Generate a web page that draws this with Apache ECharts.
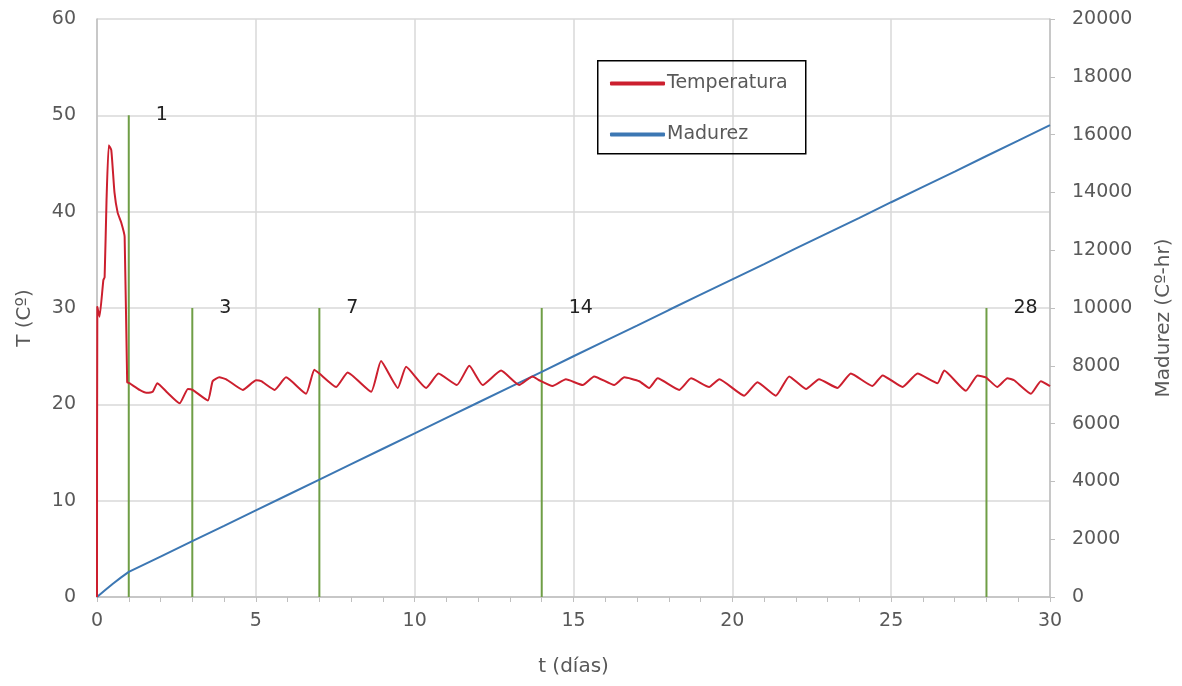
<!DOCTYPE html>
<html>
<head>
<meta charset="utf-8">
<script src="https://cdn.jsdelivr.net/npm/echarts@6/dist/echarts.min.js"></script>
<style>
  html, body { margin: 0; padding: 0; background: #ffffff; }
  #chart { width: 1182px; height: 686px; }
</style>
</head>
<body>
<div id="chart"></div>
<script>
// Temperature record (days, °C)
const tempDays = [0, 0.01, 0.08, 0.2, 0.24, 0.3, 0.37, 0.45, 0.55, 0.65, 0.76, 0.87, 0.95,
  1.02, 1.34, 1.55, 1.75, 1.9, 2.22, 2.6, 2.86, 3.01, 3.49, 3.64, 3.85, 4.07, 4.59, 5.01, 5.17,
  5.59, 5.95, 6.58, 6.84, 7.0, 7.53, 7.89, 8.63, 8.94, 9.47, 9.73, 10.36, 10.75, 11.33, 11.72,
  12.14, 12.72, 13.29, 13.71, 13.92, 14.34, 14.76, 15.29, 15.65, 16.28, 16.6, 17.07, 17.38,
  17.65, 18.33, 18.7, 19.27, 19.59, 20.37, 20.79, 21.37, 21.79, 22.32, 22.73, 23.31, 23.73,
  24.41, 24.73, 25.36, 25.83, 26.46, 26.67, 27.35, 27.72, 27.98, 28.34, 28.66, 28.87, 29.4,
  29.71, 30.0];
const tempValues = [0, 30.1, 29.1, 32.9, 33.2, 41.2, 46.9, 46.4, 42.0, 39.9, 38.9, 37.4, 22.3,
  22.2, 21.5, 21.2, 21.3, 22.2, 21.2, 20.1, 21.6, 21.5, 20.4, 22.4, 22.8, 22.6, 21.5, 22.5, 22.4,
  21.5, 22.8, 21.1, 23.6, 23.2, 21.8, 23.3, 21.3, 24.5, 21.7, 23.9, 21.7, 23.2, 22.0, 24.0,
  22.0, 23.5, 22.0, 22.9, 22.5, 21.9, 22.6, 22.0, 22.9, 22.0, 22.8, 22.4, 21.7,
  22.7, 21.5, 22.7, 21.8, 22.6, 20.9, 22.3, 20.9, 22.9, 21.6, 22.6, 21.7, 23.2,
  21.9, 23.0, 21.8, 23.2, 22.2, 23.5, 21.4, 23.0, 22.8, 21.8, 22.7, 22.5, 21.1,
  22.4, 21.9];

// Maturity (°C-hr)
const maturityDays = [0, 0.25, 0.5, 0.75, 1, 2, 3, 4, 5, 6, 7, 8, 9, 10, 11, 12, 13, 14, 15,
  16, 17, 18, 19, 20, 21, 22, 23, 24, 25, 26, 27, 28, 29, 30];
const maturityValues = [0, 230, 460, 670, 870, 1400, 1930, 2460, 3000, 3530, 4060, 4600, 5130,
  5660, 6200, 6730, 7260, 7790, 8330, 8860, 9390, 9930, 10460, 10990, 11520, 12060, 12590,
  13120, 13660, 14190, 14720, 15260, 15790, 16330];

// Test ages (days) and the height of their marker lines (°C)
const ageDays = [1, 3, 7, 14, 28];
const ageTops = [50, 30, 30, 30, 30];
const ageLabels = ['1', '3', '7', '14', '28'];

const xTicks = [0, 5, 10, 15, 20, 25, 30];

const FONT = 'DejaVu Sans';
const LABEL_GRAY = '#595959';
const GRID_GRAY = '#d9d9d9';
const AXIS_GRAY = '#bfbfbf';
const RED = '#cc1f2e';
const BLUE = '#3c77b3';
const GREEN = '#6f9e46';

const chart = echarts.init(document.getElementById('chart'), null, { renderer: 'canvas' });

const tempData = tempDays.map((d, i) => [d, tempValues[i]]);
const maturityData = maturityDays.map((d, i) => [d, maturityValues[i]]);

const ageSeries = ageDays.map((d, i) => ({
  name: 'Edad ' + ageLabels[i],
  type: 'line',
  xAxisIndex: 0,
  yAxisIndex: 0,
  data: [[d, 0], [d, ageTops[i]]],
  symbol: 'none',
  silent: true,
  z: 1,
  lineStyle: { color: GREEN, width: 2 },
  endLabel: {
    show: true,
    formatter: ageLabels[i],
    distance: 27,
    color: '#222222',
    fontFamily: FONT,
    fontSize: 19
  }
}));

chart.setOption({
  animation: false,
  backgroundColor: '#ffffff',
  grid: { left: 97, right: 131, top: 19, bottom: 89, containLabel: false },
  legend: {
    orient: 'vertical',
    left: 605,
    top: 69,
    itemWidth: 55,
    itemHeight: 4,
    itemGap: 32,
    icon: 'roundRect',
    data: ['Temperatura', 'Madurez'],
    textStyle: { fontFamily: FONT, fontSize: 19, color: LABEL_GRAY, padding: [0, 0, 0, -3] }
  },
  graphic: [{
    type: 'rect',
    left: 597,
    top: 60,
    shape: { width: 208, height: 93 },
    style: { fill: 'transparent', stroke: '#000000', lineWidth: 1.5 },
    z: 100
  }],
  xAxis: {
    type: 'value',
    min: 0,
    max: 30,
    interval: 5,
    name: 't (días)',
    nameLocation: 'middle',
    nameGap: 60,
    nameTextStyle: { fontFamily: FONT, fontSize: 20, color: LABEL_GRAY },
    axisLine: { show: true, lineStyle: { color: AXIS_GRAY, width: 1.5 } },
    axisTick: { show: true, length: 5, lineStyle: { color: AXIS_GRAY } },
    minorTick: { show: true, splitNumber: 5, length: 5, lineStyle: { color: AXIS_GRAY } },
    splitLine: { show: true, lineStyle: { color: GRID_GRAY, width: 1.5 } },
    axisLabel: {
      fontFamily: FONT, fontSize: 19, color: LABEL_GRAY, margin: 15,
      formatter: v => (xTicks.indexOf(v) >= 0 ? String(v) : '')
    }
  },
  yAxis: [{
    type: 'value',
    min: 0,
    max: 60,
    interval: 10,
    name: 'T (Cº)',
    nameLocation: 'middle',
    nameGap: 62,
    nameRotate: 90,
    nameTextStyle: { fontFamily: FONT, fontSize: 20, color: LABEL_GRAY, padding: [0, 20, 0, 0] },
    axisLine: { show: true, lineStyle: { color: AXIS_GRAY, width: 1.5 } },
    axisTick: { show: false },
    splitLine: { show: true, lineStyle: { color: GRID_GRAY, width: 1.5 } },
    axisLabel: { fontFamily: FONT, fontSize: 19, color: LABEL_GRAY, margin: 21 }
  }, {
    type: 'value',
    min: 0,
    max: 20000,
    interval: 2000,
    position: 'right',
    name: 'Madurez (Cº-hr)',
    nameLocation: 'middle',
    nameGap: 104,
    nameRotate: 90,
    nameTextStyle: { fontFamily: FONT, fontSize: 20, color: LABEL_GRAY, padding: [0, 20, 0, 0] },
    axisLine: { show: true, lineStyle: { color: AXIS_GRAY, width: 1.5 } },
    axisTick: { show: true, length: 5, lineStyle: { color: AXIS_GRAY } },
    splitLine: { show: false },
    axisLabel: {
      fontFamily: FONT, fontSize: 19, color: LABEL_GRAY, margin: 22,
      formatter: v => String(v)
    }
  }],
  series: [
    {
      name: 'Temperatura',
      type: 'line',
      yAxisIndex: 0,
      data: tempData,
      symbol: 'none',
      smooth: 0.15,
      z: 3,
      itemStyle: { color: RED },
      lineStyle: { color: RED, width: 2 }
    },
    {
      name: 'Madurez',
      type: 'line',
      yAxisIndex: 1,
      data: maturityData,
      symbol: 'none',
      z: 2,
      itemStyle: { color: BLUE },
      lineStyle: { color: BLUE, width: 2 }
    }
  ].concat(ageSeries)
});
</script>
</body>
</html>
